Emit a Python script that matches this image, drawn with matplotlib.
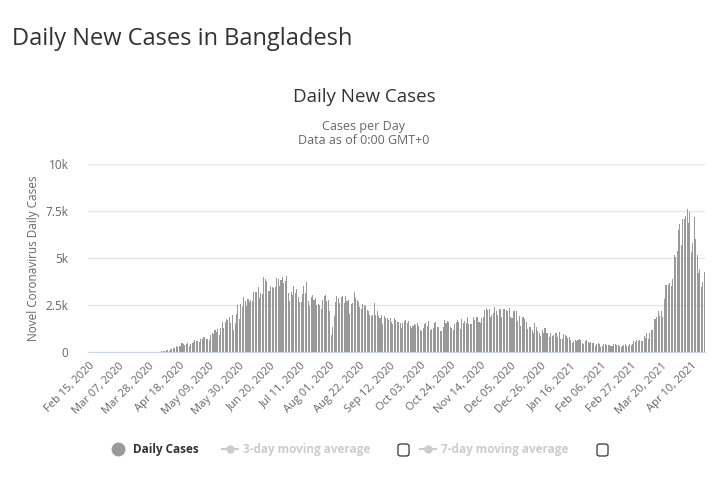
import numpy as np
import pandas as pd
import matplotlib
matplotlib.use("Agg")
import matplotlib.pyplot as plt
from matplotlib.lines import Line2D
from matplotlib.patches import FancyBboxPatch

plt.rcParams['font.family'] = ['Open Sans', 'DejaVu Sans']

# daily new cases, Feb 15 2020 .. Apr 19 2021
feb_2020 = [0] * 15
mar_2020 = [0, 0, 0, 0, 0, 0, 0, 3, 0, 0, 0, 0, 0, 2, 0, 3, 2, 4, 3, 3,
            4, 3, 6, 6, 6, 5, 4, 0, 2, 1, 2]
apr_2020 = [2, 2, 5, 9, 18, 35, 41, 54, 112, 94, 58, 139, 182, 209, 219, 341,
            266, 306, 312, 492, 434, 390, 414, 503, 309, 418, 497, 549, 641, 564]
may_2020 = [571, 552, 665, 688, 790, 786, 706, 709, 636, 887, 1034, 969, 1162,
            1041, 1202, 930, 1273, 1602, 1251, 1617, 1773, 1694, 1873, 1532,
            1975, 1166, 1541, 2029, 2523, 1764, 2545]
jun_2020 = [2381, 2911, 2695, 2423, 2828, 2635, 2743, 2735, 3171, 3190, 3187,
            3471, 2856, 3141, 3099, 4008, 3862, 3803, 3243, 3240, 3531, 3480,
            3412, 3462, 3946, 3868, 3504, 3809, 4014, 3682]
jul_2020 = [3775, 4019, 3114, 2738, 3201, 3027, 3489, 3163, 3360, 2949, 2686,
            2666, 3099, 3533, 3163, 3733, 2709, 2459, 2928, 3057, 2744, 2856,
            2520, 2548, 2520, 2275, 2772, 2960, 3009, 2695, 2772]
aug_2020 = [2199, 887, 1356, 1918, 2654, 2977, 2851, 2611, 2907, 2996, 2617,
            2996, 2718, 2766, 2024, 2564, 2585, 3200, 2868, 2747, 2685, 2401,
            2265, 2545, 2485, 2436, 2211, 2172, 1950, 1897, 1950]
sep_2020 = [2582, 1950, 2158, 1892, 1792, 1950, 1471, 1892, 1812, 1827, 1718,
            1792, 1615, 1476, 1812, 1724, 1615, 1593, 1557, 1282, 1555, 1666,
            1705, 1557, 1640, 1383, 1275, 1407, 1488, 1436]
oct_2020 = [1545, 1396, 1182, 1125, 1275, 1488, 1537, 1407, 1664, 1193, 1208,
            1264, 1537, 1622, 1333, 1345, 1103, 1091, 1330, 1695, 1517, 1653,
            1586, 1308, 1275, 1178, 1493, 1604, 1681, 1576, 1246]
nov_2020 = [1736, 1568, 1643, 1517, 1845, 1469, 1471, 1474, 1837, 1684, 1845,
            1861, 1617, 1531, 1788, 1847, 2212, 2364, 2212, 2275, 1847, 1953,
            2060, 2419, 2156, 1946, 2292, 2308, 1837, 2293]
dec_2020 = [2293, 2234, 2198, 2316, 1847, 1788, 2198, 2156, 2202, 1628, 1895,
            1357, 1877, 1879, 1746, 1571, 1229, 1345, 1318, 1176, 998, 1540,
            1305, 1103, 1018, 850, 1159, 1014, 1294, 1013, 1003]
jan_2021 = [814, 1014, 835, 910, 1007, 1019, 824, 1068, 684, 691, 958, 890,
            833, 732, 813, 621, 473, 569, 652, 591, 612, 682, 646, 484, 450,
            602, 633, 510, 469, 507, 482]
feb_2021 = [488, 345, 420, 491, 413, 290, 311, 412, 409, 382, 386, 376, 299,
            303, 401, 410, 376, 365, 312, 291, 307, 365, 441, 341, 340, 403,
            383, 406]
mar_2021 = [585, 515, 614, 606, 635, 597, 606, 845, 742, 1018, 708, 1014, 1159,
            1159, 1773, 1779, 1865, 2187, 1899, 2187, 1868, 2809, 3554, 3567,
            3585, 3674, 3527, 3908, 5181, 5042, 5358]
apr_2021 = [6469, 6830, 5683, 7087, 7075, 7213, 7626, 6854, 7462, 5343, 5819,
            7201, 6028, 5185, 4192, 4417, 3473, 3698, 4271]

cases = (feb_2020 + mar_2020 + apr_2020 + may_2020 + jun_2020 + jul_2020 +
         aug_2020 + sep_2020 + oct_2020 + nov_2020 + dec_2020 + jan_2021 +
         feb_2021 + mar_2021 + apr_2021)
dates = pd.date_range("2020-02-15", periods=len(cases), freq="D")
categories = [d.strftime("%b %d, %Y") for d in dates]

y_ticks = [0, 2500, 5000, 7500, 10000]
y_labels = ["0", "2.5k", "5k", "7.5k", "10k"]

W, H = 721, 487
fig = plt.figure(figsize=(W / 100, H / 100), dpi=100)
ax = fig.add_axes([88 / W, 1 - 352 / H, (705 - 88) / W, (352 - 164) / H])

x = np.arange(len(cases))
ax.bar(x, cases, width=0.72, color="#999999", linewidth=0)
ax.set_xlim(-0.5, len(cases) - 0.5)
ax.set_ylim(0, 10000)

ax.set_yticks(y_ticks)
ax.set_yticklabels(y_labels, fontsize=8.5, color="#666666")
ax.yaxis.grid(True, color="#e6e6e6", linewidth=1)
ax.set_axisbelow(True)
tick_idx = list(range(0, len(cases), 21))
ax.set_xticks(tick_idx)
ax.set_xticklabels([categories[i] for i in tick_idx], rotation=45, ha="right",
                   rotation_mode="anchor", fontsize=8, color="#666666")
ax.tick_params(axis="both", length=0)
ax.tick_params(axis="x", pad=6)
ax.tick_params(axis="y", pad=14)
for s in ["top", "right", "left"]:
    ax.spines[s].set_visible(False)
ax.spines["bottom"].set_color("#ccd6eb")
ax.set_ylabel("Novel Coronavirus Daily Cases", fontsize=8.5, color="#666666",
              labelpad=4)

# titles
fig.text(12 / W, 1 - 39 / H, "Daily New Cases in Bangladesh", fontsize=17,
         color="#333333", va="center", ha="left")
fig.text(364 / W, 1 - 97 / H, "Daily New Cases", fontsize=13.5,
         color="#333333", va="center", ha="center")
fig.text(364 / W, 1 - 127 / H, "Cases per Day", fontsize=9,
         color="#666666", va="center", ha="center")
fig.text(364 / W, 1 - 141 / H, "Data as of 0:00 GMT+0", fontsize=9,
         color="#666666", va="center", ha="center")

# legend
ly = 1 - 449 / H
fig.add_artist(Line2D([118 / W], [ly], marker="o", markersize=9,
                      color="#999999", linestyle="none"))
fig.text(133 / W, ly, "Daily Cases", fontsize=8.5, fontweight="bold",
         color="#333333", va="center", ha="left")
for x0, label, box in [(222, "3-day moving average", 398),
                       (420, "7-day moving average", 597)]:
    fig.add_artist(Line2D([x0 / W, (x0 + 16) / W], [ly, ly], color="#cccccc",
                          linewidth=1.5))
    fig.add_artist(Line2D([(x0 + 8) / W], [ly], marker="o", markersize=5,
                          color="#cccccc", linestyle="none"))
    fig.text((x0 + 21) / W, ly, label, fontsize=8.5, fontweight="bold",
             color="#cccccc", va="center", ha="left")
    fig.add_artist(FancyBboxPatch((box / W, 1 - 456 / H), 11 / W, 12 / H,
                                  boxstyle="round,pad=0,rounding_size=0.004",
                                  transform=fig.transFigure, facecolor="white",
                                  edgecolor="#333333", linewidth=0.9))

fig.savefig("out.png", dpi=100)
